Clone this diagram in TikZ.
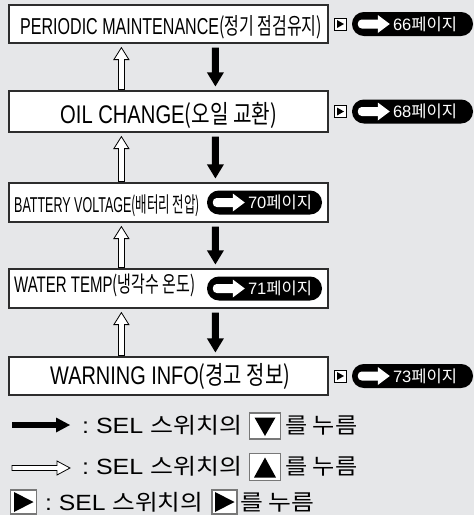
\documentclass[tikz,border=0pt]{standalone}
\usepackage{fontspec}
\usepackage{graphicx}
\setmainfont{Liberation Sans}
\newfontfamily\kr{Noto Sans CJK KR}
\usetikzlibrary{calc}
\definecolor{bg}{RGB}{230,231,233}
\definecolor{edge}{RGB}{45,45,45}
\definecolor{keyedge}{RGB}{120,120,120}
\newsavebox\fitbox
\newcommand\fitx[2]{\sbox\fitbox{#2}\pgfmathsetmacro\fitr{#1/\the\wd\fitbox}\scalebox{\fitr}[1]{\usebox\fitbox}}
\newcommand\downarr[2]{%
  \path ($(#1.south west)+(207,4)$) coordinate (tt) ($(#2.north west)+(207,-4)$) coordinate (bb);
  \fill[black] let \p1=(tt), \p2=(bb) in
    (\x1-3.5pt,\y1) -- (\x1+3.5pt,\y1) -- (\x1+3.5pt,\y2+14pt) -- (\x1+8.5pt,\y2+14pt)
    -- (\x1,\y2) -- (\x1-8.5pt,\y2+14pt) -- (\x1-3.5pt,\y2+14pt) -- cycle;}
\newcommand\uparr[2]{%
  \path ($(#1.south west)+(113,4)$) coordinate (tt) ($(#2.north west)+(113,-1)$) coordinate (bb);
  \filldraw[fill=white,draw=black,line width=0.8pt] let \p1=(tt), \p2=(bb) in
    (\x1-3pt,\y2) -- (\x1-3pt,\y1-12pt) -- (\x1-7.5pt,\y1-12pt) -- (\x1,\y1)
    -- (\x1+7.5pt,\y1-12pt) -- (\x1+3pt,\y1-12pt) -- (\x1+3pt,\y2) -- cycle;}
\newcommand\pillarrow[1]{%
  \begin{scope}[shift={(#1.west)}]
    \fill[white,rounded corners=4pt] (6,-4.5) rectangle (30,4.5);
    \fill[white] (26,-9) -- (38,0) -- (26,9) -- cycle;
  \end{scope}}
\newcommand\pilltext[2]{%
  \node[anchor=base west,inner sep=0,text=white] (#1txt) at ($(#1.west)+(41,6)$)
    {\fitx{64}{\fontsize{16.5}{18}\selectfont #2{\kr 페이지}}};}
\newcommand\smallkey[1]{%
  \begin{scope}[shift={(#1.center)}]
    \fill[black] (-3,-4) -- (4,0) -- (-3,4) -- cycle;
  \end{scope}}
\begin{document}
\begin{tikzpicture}[x=1pt,y=-1pt,
  box/.style={draw=edge,line width=1.2pt,fill=white,minimum width=319pt,inner sep=0pt},
  pill/.style={fill=black,rounded corners=11.9pt,minimum height=24pt,inner sep=0pt},
  skey/.style={draw=black,line width=0.8pt,fill=white,minimum width=12pt,minimum height=12pt,inner sep=0pt},
  lkey/.style={draw=keyedge,line width=1.4pt,fill=white,inner sep=0pt},
  lbl/.style={anchor=base west,inner sep=0pt}]
\fill[bg] (0,0) rectangle (474,515);
\useasboundingbox (0,0) rectangle (474,515);

% boxes
\node[box,minimum height=38pt] (b1) at (168.5,24) {};
\node[box,minimum height=41pt] (b2) at (168.5,111.5) {};
\node[box,minimum height=39pt] (b3) at (168.5,202.5) {};
\node[box,minimum height=39pt] (b4) at (168.5,288.5) {};
\node[box,minimum height=38pt] (b5) at (168.5,376) {};

% box labels
\node[lbl] (t1) at (20,34) {\fitx{302}{\fontsize{23}{26}\selectfont PERIODIC MAINTENANCE{\kr (정기 점검유지)}}};
\node[lbl] (t2) at (60,123.5) {\fitx{217}{\fontsize{25.5}{28}\selectfont OIL CHANGE{\kr (오일 교환)}}};
\node[lbl] (t3) at (14,212) {\fitx{186}{\fontsize{21.5}{24}\selectfont BATTERY VOLTAGE{\kr (배터리 전압)}}};
\node[lbl] (t4) at (14,292.5) {\fitx{181}{\fontsize{22.5}{26}\selectfont WATER TEMP{\kr (냉각수 온도)}}};
\node[lbl] (t5) at (50,384.5) {\fitx{240}{\fontsize{25.5}{28}\selectfont WARNING INFO{\kr (경고 정보)}}};

% small keys and pills
\node[skey] (s1) at (340,24) {};
\node[skey] (s2) at (340,111.5) {};
\node[skey] (s5) at (340,376) {};
\smallkey{s1}\smallkey{s2}\smallkey{s5}

\node[pill,minimum width=121pt] (r1) at (412.5,24) {};
\node[pill,minimum width=121pt] (r2) at (412.5,111.5) {};
\node[pill,minimum width=115pt] (r3) at (264.5,202.5) {};
\node[pill,minimum width=115pt] (r4) at (264.5,288.5) {};
\node[pill,minimum width=121pt] (r5) at (412.5,376) {};
\pillarrow{r1}\pillarrow{r2}\pillarrow{r3}\pillarrow{r4}\pillarrow{r5}
\pilltext{r1}{66}
\pilltext{r2}{68}
\pilltext{r3}{70}
\pilltext{r4}{71}
\pilltext{r5}{73}

% flow arrows
\downarr{b1}{b2}\downarr{b2}{b3}\downarr{b3}{b4}\downarr{b4}{b5}
\uparr{b1}{b2}\uparr{b2}{b3}\uparr{b3}{b4}\uparr{b4}{b5}

% legend
\fill[black] (12,422) rectangle (57,428);
\fill[black] (56,417.5) -- (70,425) -- (56,432.5) -- cycle;
\filldraw[fill=white,draw=black,line width=0.8pt]
  (12,465.5) -- (57,465.5) -- (57,461) -- (70,468) -- (57,475) -- (57,470.5) -- (12,470.5) -- cycle;

\node[lkey,minimum width=31pt,minimum height=26pt] (k1) at (265,426) {};
\node[lkey,minimum width=31pt,minimum height=27pt] (k2) at (265,467) {};
\node[lkey,minimum width=26pt,minimum height=24pt] (k3) at (23.5,502) {};
\node[lkey,minimum width=25pt,minimum height=24pt] (k4) at (224.5,502) {};
\fill[black] ($(k1.center)+(-10.5,-8.5)$) -- ($(k1.center)+(10.5,-8.5)$) -- ($(k1.center)+(0,10)$) -- cycle;
\fill[black] ($(k2.center)+(-11,10.5)$) -- ($(k2.center)+(11,10.5)$) -- ($(k2.center)+(0,-9.5)$) -- cycle;
\fill[black] ($(k3.center)+(-9.5,-10)$) -- ($(k3.center)+(10,0)$) -- ($(k3.center)+(-9.5,10)$) -- cycle;
\fill[black] ($(k4.center)+(-9.5,-10)$) -- ($(k4.center)+(10,0)$) -- ($(k4.center)+(-9.5,10)$) -- cycle;

\node[lbl] (g1a) at (82,433) {\fitx{160}{\fontsize{22}{24}\selectfont :~SEL {\kr 스위치의}}};
\node[lbl] (g1b) at (285,433) {\fitx{72}{\fontsize{22}{24}\selectfont\kr 를 누름}};
\node[lbl] (g2a) at (82,474) {\fitx{160}{\fontsize{22}{24}\selectfont :~SEL {\kr 스위치의}}};
\node[lbl] (g2b) at (285,474) {\fitx{72}{\fontsize{22}{24}\selectfont\kr 를 누름}};
\node[lbl] (g3a) at (45,510) {\fitx{158}{\fontsize{22}{24}\selectfont :~SEL {\kr 스위치의}}};
\node[lbl] (g3b) at (240,510) {\fitx{74}{\fontsize{22}{24}\selectfont\kr 를 누름}};
\end{tikzpicture}
\end{document}
